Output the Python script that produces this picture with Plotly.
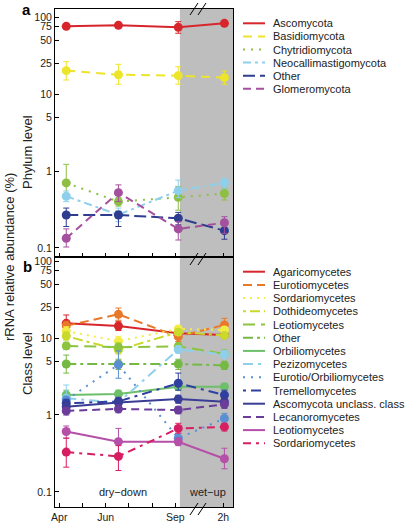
import numpy as np
import plotly.graph_objects as go

# ---------------- data ----------------
sample_x = [0.3, 2.55, 5.13, 7.12]          # sampling time (months after 1 Apr; last = 2 h after wet-up)
month_ticks = [0, 1, 2, 3, 4, 5, 7.07]
month_ticktext = ["Apr", "", "Jun", "", "", "Sep", "2h"]
x_range = [-0.185, 7.49]
wetup_start = 5.2

y_tickvals = [0.1, 1, 5, 10, 25, 50, 75, 100]
y_ticktext = ["0.1", "1", "5", "10", "25", "50", "75", "100"]

# Panel a: phylum level
phylum_names = ["Ascomycota", "Basidiomycota", "Chytridiomycota",
                "Neocallimastigomycota", "Other", "Glomeromycota"]
phylum_vals = [
    [75.7, 78.0, 73.4, 82.8],
    [20.1, 17.8, 17.3, 16.3],
    [0.70, 0.40, 0.455, 0.51],
    [0.47, 0.27, 0.555, 0.70],
    [0.268, 0.268, 0.243, 0.168],
    [0.134, 0.523, 0.177, 0.213],
]
phylum_hi = [
    [80.0, 82.0, 87.0, 86.0],
    [26.3, 24.3, 22.6, 19.9],
    [1.22, 0.45, 0.63, 0.60],
    [0.55, 0.33, 0.76, 0.80],
    [0.33, 0.30, 0.29, 0.21],
    [0.177, 0.66, 0.22, 0.255],
]
phylum_lo = [
    [72.0, 74.0, 61.5, 80.0],
    [15.2, 13.4, 13.4, 13.4],
    [0.50, 0.35, 0.31, 0.42],
    [0.40, 0.22, 0.45, 0.60],
    [0.19, 0.19, 0.20, 0.13],
    [0.103, 0.40, 0.127, 0.155],
]
phylum_colors = ["#D7262B", "#EDE52A", "#8DBF44", "#8ED0EC", "#2E3D8F", "#A4509E"]
phylum_dash = ["solid", "9px,6px", "2px,6px", "8px,4px,3px,4px", "12px,5px", "8px,5px"]

# Panel b: class level
class_names = ["Agaricomycetes", "Eurotiomycetes", "Sordariomycetes", "Dothideomycetes",
               "Leotiomycetes", "Other", "Orbiliomycetes", "Pezizomycetes",
               "Eurotio/Orbiliomycetes", "Tremellomycetes", "Ascomycota unclass. class",
               "Lecanoromycetes", "Leotiomycetes", "Sordariomycetes"]
class_vals = [
    [15.5, 14.3, 11.5, 10.9],
    [14.4, 20.3, 10.4, 14.8],
    [12.3, 9.1, 13.1, 12.7],
    [10.6, 7.0, 11.9, 10.8],
    [7.9, 7.6, 7.8, 6.2],
    [4.6, 4.6, 4.6, 4.4],
    [1.82, 1.88, 2.33, 2.33],
    [1.65, 1.45, 7.1, 6.1],
    [1.57, 4.5, 0.50, 0.90],
    [1.42, 1.5, 2.58, 1.82],
    [1.28, 1.45, 1.61, 1.49],
    [1.13, 1.2, 1.16, 1.38],
    [0.61, 0.45, 0.45, 0.27],
    [0.33, 0.29, 0.67, 0.70],
]
class_hi = [
    [19.9, 16.5, 13.0, 12.0],
    [16.5, 24.5, 12.5, 18.0],
    [14.0, 10.5, 14.5, 14.0],
    [12.0, 8.0, 13.0, 11.8],
    [8.8, 8.6, 8.6, 7.0],
    [6.0, 5.3, 5.3, 5.0],
    [2.1, 2.1, 2.6, 2.55],
    [2.45, 1.65, 7.9, 6.9],
    [1.75, 6.8, 0.58, 1.05],
    [1.6, 1.7, 3.5, 2.1],
    [1.45, 1.65, 1.8, 1.7],
    [1.25, 1.35, 1.28, 1.55],
    [0.72, 0.67, 0.50, 0.37],
    [0.50, 0.40, 0.78, 0.78],
]
class_lo = [
    [12.5, 12.5, 10.0, 10.0],
    [12.5, 17.0, 9.0, 12.5],
    [10.8, 8.0, 11.8, 11.5],
    [9.4, 6.2, 10.8, 9.9],
    [7.1, 6.7, 7.1, 5.5],
    [3.5, 3.9, 3.9, 3.9],
    [1.55, 1.65, 2.1, 2.1],
    [1.15, 1.28, 6.4, 5.4],
    [1.4, 3.0, 0.43, 0.77],
    [1.25, 1.32, 2.1, 1.6],
    [1.12, 1.25, 1.42, 1.3],
    [1.0, 1.07, 1.04, 1.22],
    [0.50, 0.30, 0.40, 0.20],
    [0.21, 0.19, 0.58, 0.62],
]
class_colors = ["#D7262B", "#E8782A", "#F3EC45", "#C9DA2A", "#8CC43F", "#74B944",
                "#6DBF6A", "#8ED0EC", "#5A8FD2", "#2E40A0", "#3A3D96", "#6A3D9A",
                "#B54FA8", "#D81E63"]
class_dash = ["solid", "9px,5px", "2px,5px", "3px,4px,10px,4px", "12px,6px",
              "10px,4px,3px,4px", "solid", "10px,5px,3px,5px", "2px,6px",
              "3px,5px,10px,5px", "solid", "8px,5px", "solid", "8px,5px,3px,5px"]

# ---------------- figure ----------------
W, H = 406, 528
L, R, T, B = 55, 173, 9, 21
FONT = "Liberation Sans, Arial, Helvetica, sans-serif"


def px(x):
    return (x - L) / (W - L - R)


def py(y):
    return (H - B - y) / (H - T - B)


fig = go.Figure()


def add_series(names, vals, his, los, colors, dashes, xa, ya):
    for n, v, hi, lo, c, d in zip(names, vals, his, los, colors, dashes):
        v = np.array(v)
        fig.add_trace(go.Scatter(
            x=sample_x, y=v, name=n, mode="lines+markers",
            xaxis=xa, yaxis=ya, showlegend=False,
            line=dict(color=c, width=2, dash=d),
            marker=dict(color=c, size=9),
            error_y=dict(type="data", symmetric=False,
                         array=np.array(hi) - v, arrayminus=v - np.array(lo),
                         color=c, thickness=1, width=3),
        ))


add_series(phylum_names, phylum_vals, phylum_hi, phylum_lo, phylum_colors, phylum_dash, "x", "y")
add_series(class_names, class_vals, class_hi, class_lo, class_colors, class_dash, "x2", "y2")

axis_common = dict(showgrid=False, zeroline=False, showline=True, linecolor="black",
                   linewidth=1, mirror=True, ticks="inside", ticklen=4, tickcolor="black",
                   automargin=False,
                   tickfont=dict(family=FONT, size=10.5, color="#222"))

split = py(257)
fig.update_layout(
    template="none",
    width=W, height=H, margin=dict(l=L, r=R, t=T, b=B, autoexpand=False),
    autosize=False,
    paper_bgcolor="white", plot_bgcolor="white", showlegend=False,
    xaxis=dict(domain=[0, 1], anchor="y", range=x_range, tickvals=month_ticks,
               showticklabels=False, **axis_common),
    yaxis=dict(domain=[split, 1], anchor="x", type="log", range=[-1.117, 2.104],
               tickvals=y_tickvals, ticktext=y_ticktext, **axis_common),
    xaxis2=dict(domain=[0, 1], anchor="y2", range=x_range, tickvals=month_ticks,
                ticktext=month_ticktext, **axis_common),
    yaxis2=dict(domain=[0, split], anchor="x2", type="log", range=[-1.195, 2.052],
                tickvals=y_tickvals, ticktext=y_ticktext, **axis_common),
)

shapes = []
# wet-up shading
for xr, yr in [("x", "y domain"), ("x2", "y2 domain")]:
    shapes.append(dict(type="rect", xref=xr, yref=yr, x0=wetup_start, x1=x_range[1],
                       y0=0, y1=1, fillcolor="#BEBEBE", line=dict(width=0), layer="below"))
# axis break marks
for yc in [9, 259, 509]:
    for x0 in [190, 198]:
        shapes.append(dict(type="line", xref="paper", yref="paper",
                           x0=px(x0), y0=py(yc + 6), x1=px(x0 + 8), y1=py(yc - 6),
                           line=dict(color="black", width=1)))

annotations = []


def ann(x, y, text, size=11, angle=0, xanchor="center", color="#222", xref="paper", yref="paper"):
    return dict(xref=xref, yref=yref, x=x, y=y, text=text, showarrow=False,
                xanchor=xanchor, yanchor="middle", textangle=angle,
                borderpad=0, borderwidth=0,
                font=dict(family=FONT, size=size, color=color))


def legend(names, colors, dashes, y_first, step):
    for i, (n, c, d) in enumerate(zip(names, colors, dashes)):
        yy = y_first + step * i
        shapes.append(dict(type="line", xref="paper", yref="paper",
                           x0=px(243), x1=px(265), y0=py(yy), y1=py(yy),
                           line=dict(color=c, width=2, dash=d)))
        annotations.append(ann(px(273), py(yy), n, xanchor="left"))


legend(phylum_names, phylum_colors, phylum_dash, 23.3, 13.1)
legend(class_names, class_colors, class_dash, 271.7, 13.2)

annotations += [
    ann(px(26), py(9), "<b>a</b>", size=15, color="black"),
    ann(px(27), py(266), "<b>b</b>", size=15, color="black"),
    ann(px(27), py(152), "Phylum level", size=13, angle=-90),
    ann(px(27), py(364), "Class level", size=13, angle=-90),
    ann(px(9), py(257), "rRNA relative abundance (%)", size=13, angle=-90),
    ann(2.75, -1, "dry\u2212down", xref="x2", yref="y2"),
    ann(6.4, -1, "wet\u2212up", xref="x2", yref="y2"),
]

fig.update_layout(shapes=shapes, annotations=annotations)
fig.write_html("out.html", config={"displayModeBar": False},
               post_script="document.body.style.margin='0';document.body.style.padding='0';")
